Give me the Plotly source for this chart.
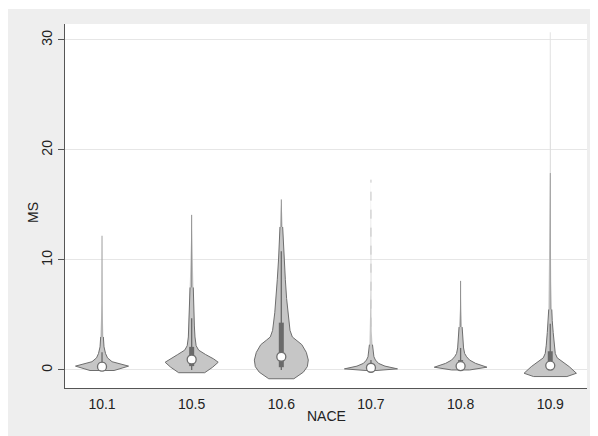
import plotly.graph_objects as go

# ---- data ----
categories = ["10.1", "10.5", "10.6", "10.7", "10.8", "10.9"]

# density profiles: y values and half-widths (in category units)
dens_y = {
    "10.1": [-0.05, 0.35, 0.75, 1.1, 1.5, 2.1, 3.0, 4.5, 6.0, 8.0, 10.0, 12.2],
    "10.5": [-0.25, 0.25, 0.7, 1.0, 1.4, 1.8, 2.2, 3.0, 4.0, 5.5, 7.5, 10.0, 12.0, 14.1],
    "10.6": [-0.8, -0.2, 0.3, 0.9, 1.6, 2.3, 2.7, 3.0, 3.6, 5.2, 6.5, 8.2, 10.0, 11.2, 13.0, 14.3, 15.5],
    "10.7": [-0.05, 0.1, 0.35, 0.6, 0.9, 1.2, 1.7, 2.3, 3.5, 5.0, 8.0, 12.0, 17.3],
    "10.8": [0.0, 0.25, 0.6, 0.9, 1.2, 1.5, 2.0, 2.4, 3.0, 3.9, 5.5, 8.1],
    "10.9": [-0.6, -0.3, 0.3, 0.75, 1.1, 1.5, 2.2, 3.4, 4.5, 5.5, 8.0, 10.0, 13.0, 16.0, 17.9, 24.0, 30.7],
}
dens_w = {
    "10.1": [0.134, 0.296, 0.112, 0.061, 0.039, 0.022, 0.015, 0.009, 0.006, 0.004, 0.003, 0.0],
    "10.5": [0.145, 0.234, 0.296, 0.246, 0.156, 0.078, 0.050, 0.037, 0.030, 0.025, 0.018, 0.012, 0.007, 0.0],
    "10.6": [0.140, 0.246, 0.290, 0.301, 0.279, 0.229, 0.167, 0.123, 0.097, 0.073, 0.059, 0.045, 0.031, 0.022, 0.015, 0.009, 0.0],
    "10.7": [0.056, 0.296, 0.156, 0.084, 0.050, 0.033, 0.022, 0.017, 0.009, 0.006, 0.003, 0.003, 0.0],
    "10.8": [0.100, 0.294, 0.167, 0.100, 0.067, 0.045, 0.033, 0.028, 0.022, 0.017, 0.008, 0.0],
    "10.9": [0.186, 0.292, 0.212, 0.134, 0.078, 0.056, 0.045, 0.033, 0.022, 0.017, 0.011, 0.009, 0.007, 0.006, 0.003, 0.002, 0.0],
}

q1 = [0.05, 0.35, 0.25, 0.05, 0.15, 0.15]
q3 = [0.7, 2.1, 4.3, 0.4, 0.9, 1.7]
medians = [0.3, 0.95, 1.2, 0.2, 0.35, 0.4]
whisk_lo = [0.0, 0.0, 0.0, 0.0, 0.0, 0.0]
whisk_hi = [1.6, 4.7, 10.8, 0.9, 2.0, 4.2]

y_ticks = [0, 10, 20, 30]

# ---- figure (page has an 8px body margin; figure drawn at offset 8,8) ----
OFF = 8
W, H = 598 - OFF, 436 - OFF
L, R, T, B = 65 - OFF, 11, 24 - OFF, 48
pw, ph = W - L - R, H - T - B

fill_col = "#C6C6C6"
line_col = "#6E6E6E"
box_col = "#6A6A6A"
tail_styles = {
    "10.1": ("#A0A0A0", "solid"),
    "10.5": ("#8C8C8C", "solid"),
    "10.6": ("#8C8C8C", "solid"),
    "10.7": ("#C4C4C4", "dash"),
    "10.8": ("#8C8C8C", "solid"),
    "10.9": ("#9A9A9A", "solid"),
}
TAIL_W = 0.02

fig = go.Figure()

for i, c in enumerate(categories):
    ys = dens_y[c]
    ws = dens_w[c]
    xs = [i + w for w in ws] + [i - w for w in reversed(ws)]
    yy = ys + list(reversed(ys))
    fig.add_trace(go.Scatter(x=xs, y=yy, mode="lines", fill="toself",
                             fillcolor=fill_col, line=dict(width=0),
                             hoverinfo="skip", showlegend=False))
    k = next(j for j, w in enumerate(ws) if w < TAIL_W)
    ox = [i - ws[j] for j in range(k, -1, -1)] + [i + ws[j] for j in range(0, k + 1)]
    oy = [ys[j] for j in range(k, -1, -1)] + [ys[j] for j in range(0, k + 1)]
    fig.add_trace(go.Scatter(x=ox, y=oy, mode="lines",
                             line=dict(color=line_col, width=1),
                             hoverinfo="skip", showlegend=False))
    tcol, tdash = tail_styles[c]
    top = ys[-1]
    if c == "10.9":
        top = 17.9
        fig.add_trace(go.Scatter(x=[i, i], y=[17.9, ys[-1]], mode="lines",
                                 line=dict(color="#E2E2E2", width=1),
                                 hoverinfo="skip", showlegend=False))
    fig.add_trace(go.Scatter(x=[i, i], y=[ys[k], top], mode="lines",
                             line=dict(color=tcol, width=1, dash=tdash),
                             hoverinfo="skip", showlegend=False))
    # whisker
    fig.add_trace(go.Scatter(x=[i, i], y=[whisk_lo[i], whisk_hi[i]], mode="lines",
                             line=dict(color=box_col, width=1.3),
                             hoverinfo="skip", showlegend=False))
    # box
    fig.add_trace(go.Scatter(x=[i, i], y=[q1[i], q3[i]], mode="lines",
                             line=dict(color=box_col, width=5),
                             hoverinfo="skip", showlegend=False))

fig.add_trace(go.Scatter(x=list(range(len(categories))), y=medians, mode="markers",
                         marker=dict(color="white", size=9,
                                     line=dict(color=line_col, width=1.3)),
                         hoverinfo="skip", showlegend=False))

# helpers: page pixel -> paper coordinate
def px_to_paper_x(p):
    return (p - OFF - L) / pw

def px_to_paper_y(p):
    return (H - B - (p - OFF)) / ph

fig.update_layout(
    width=W, height=H,
    margin=dict(l=L, r=R, t=T, b=B, autoexpand=False),
    paper_bgcolor="#EEEEEE",
    plot_bgcolor="white",
    font=dict(family="Liberation Sans, Arial, sans-serif", size=14, color="#222222"),
    showlegend=False,
    xaxis=dict(
        range=[-0.413, 5.41],
        tickvals=list(range(len(categories))),
        ticktext=categories,
        showgrid=False, zeroline=False, automargin=False,
        showline=True, linecolor="#555555", linewidth=1,
        ticks="outside", ticklen=3, tickcolor="rgba(0,0,0,0)",
        tickfont=dict(size=14),
    ),
    yaxis=dict(
        range=[-1.64, 31.45],
        tickvals=y_ticks,
        tickangle=-90,
        showgrid=True, gridcolor="#E6E6E6", gridwidth=1,
        zeroline=False, automargin=False,
        showline=True, linecolor="#555555", linewidth=1,
        ticks="outside", ticklen=6, tickcolor="#555555",
        tickfont=dict(size=14),
    ),
    shapes=[
        dict(type="rect", xref="paper", yref="paper",
             x0=px_to_paper_x(0), x1=px_to_paper_x(W + 20),
             y0=px_to_paper_y(9), y1=px_to_paper_y(0),
             fillcolor="white", line=dict(width=0)),
    ],
    annotations=[
        dict(text="NACE", xref="paper", yref="paper",
             x=px_to_paper_x(326), y=px_to_paper_y(416),
             showarrow=False, font=dict(size=14), xanchor="center", yanchor="middle"),
        dict(text="MS", xref="paper", yref="paper", textangle=-90,
             x=px_to_paper_x(33), y=px_to_paper_y(213),
             showarrow=False, font=dict(size=14), xanchor="center", yanchor="middle"),
    ],
)

fig.write_html("out.html")
